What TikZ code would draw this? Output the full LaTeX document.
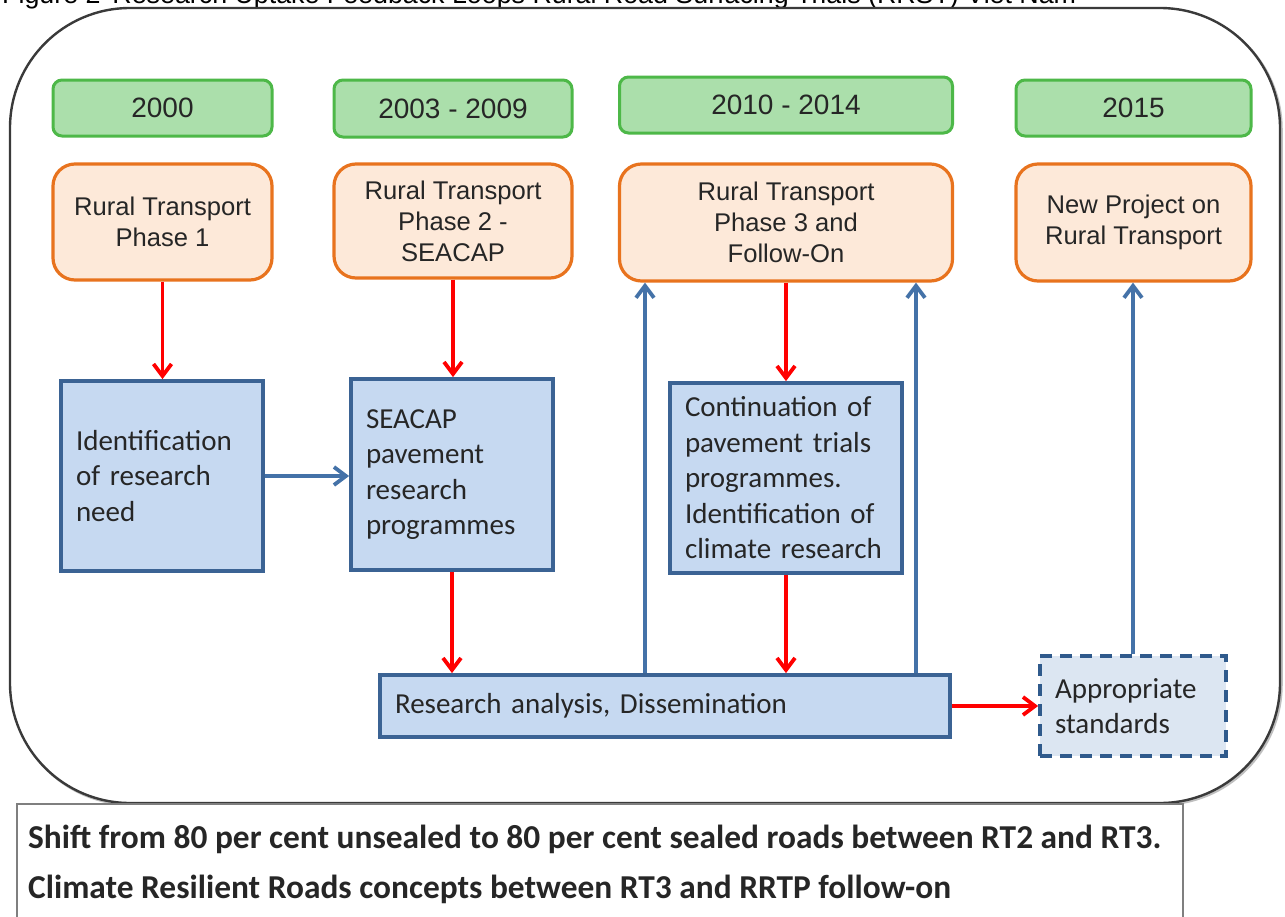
\documentclass[tikz,border=0pt]{standalone}
\usepackage{fontspec}
\setmainfont{Liberation Sans}
\newfontfamily\calfont{Carlito}
\usetikzlibrary{arrows.meta}
\definecolor{gfill}{HTML}{ABDFAB}
\definecolor{gline}{HTML}{4DB848}
\definecolor{ofill}{HTML}{FDE9D9}
\definecolor{oline}{HTML}{E8731E}
\definecolor{bfill}{HTML}{C6D9F1}
\definecolor{bline}{HTML}{3B6394}
\definecolor{barrow}{HTML}{4472A8}
\definecolor{sfill}{HTML}{DCE6F2}
\definecolor{sline}{HTML}{2F5A8C}
\definecolor{txt}{HTML}{262626}
\definecolor{frame}{HTML}{3A3A3A}
\definecolor{notebox}{HTML}{7F7F7F}
\tikzset{
  year/.style={draw=gline, fill=gfill, line width=3pt, rounded corners=9pt,
    inner sep=0pt, text=txt, font=\fontsize{28}{34}\selectfont},
  phase/.style={draw=oline, fill=ofill, line width=3.2pt, rounded corners=22pt,
    inner sep=0pt, align=center, text=txt, font=\fontsize{25.6}{31}\selectfont},
  resbox/.style={draw=bline, fill=bfill, line width=3.8pt, align=left,
    inner xsep=15pt, inner ysep=0pt, text=txt, font=\calfont\fontsize{29}{35.5}\selectfont},
  stdbox/.style={resbox, draw=sline, fill=sfill, dash pattern=on 12pt off 8pt},
  redarrow/.style={draw=red, line width=3.8pt, -{Straight Barb[length=12pt,width=18pt]}},
  bluearrow/.style={draw=barrow, line width=3.8pt, -{Straight Barb[length=12pt,width=18pt]}},
  notetext/.style={anchor=base west, inner sep=0pt, text=txt,
    font=\calfont\bfseries\fontsize{33.4}{38}\selectfont}
}
\begin{document}
\begin{tikzpicture}[x=1pt,y=-1pt]
\useasboundingbox (0,0) rectangle (1285,916);
\clip (0,0) rectangle (1285,916);
\fill[white] (0,0) rectangle (1285,916);

% title (cut off at the top, as in the reference)
\node[anchor=base west, inner sep=0pt, font=\fontsize{26.8}{30}\selectfont] (title) at (2,3)
  {Figure 2\hspace{12pt}Research Uptake Feedback Loops Rural Road Surfacing Trials (RRST) Viet Nam};

% outer frame
\draw[black!25, line width=2.5pt, rounded corners=120pt] (11.5,9.5) rectangle (1281.5,804.5);
\draw[frame, fill=white, line width=2.4pt, rounded corners=120pt] (10,8) rectangle (1280,803);

% years
\node[year, minimum width=219pt, minimum height=56pt] (y1) at (162.5,108) {2000};
\node[year, minimum width=238pt, minimum height=57pt] (y2) at (453,108.5) {2003 - 2009};
\node[year, minimum width=333pt, minimum height=56pt] (y3) at (786,105) {2010 - 2014};
\node[year, minimum width=235pt, minimum height=56pt] (y4) at (1133.5,108) {2015};

% phases
\node[phase, minimum width=219pt, minimum height=116pt] (o1) at (162.5,222) {Rural Transport\\Phase 1};
\node[phase, minimum width=238pt, minimum height=114pt] (o2) at (453,221) {Rural Transport\\Phase 2 -\\SEACAP};
\node[phase, minimum width=333pt, minimum height=117pt] (o3) at (786,222.5) {Rural Transport\\Phase 3 and\\Follow-On};
\node[phase, minimum width=235pt, minimum height=117pt] (o4) at (1133.5,222.5) {New Project on\\Rural Transport};

% research boxes
\node[resbox, text width=172pt, minimum height=190pt] (b1) at (162,476) {Identification\\of research\\need};
\node[resbox, text width=172pt, minimum height=191pt] (b2) at (452,474.5) {SEACAP\\pavement\\research\\programmes};
\node[resbox, text width=202pt, minimum height=190pt] (b3) at (786,478) {Continuation of\\pavement trials\\programmes.\\Identification of\\climate research};
\node[resbox, text width=540pt, minimum height=62pt] (ra) at (665,706) {Research analysis, Dissemination};
\node[stdbox, text width=156pt, minimum height=100pt] (st) at (1133,706) {Appropriate\\standards};

% helper coordinates for feedback lines
\coordinate (fbl) at (645,281);
\coordinate (fbr) at (916,281);

% red arrows
\draw[redarrow] (o1.south) -- (o1.south |- b1.north);
\draw[redarrow] (o2.south) -- (o2.south |- b2.north);
\draw[redarrow] (o3.south) -- (o3.south |- b3.north);
\draw[redarrow] (b2.south) -- (b2.south |- ra.north);
\draw[redarrow] (b3.south) -- (b3.south |- ra.north);
\draw[redarrow] (ra.east) -- (st.west);

% blue arrows
\draw[bluearrow] (b1.east) -- (b1.east -| b2.west);
\draw[bluearrow] (fbl |- ra.north) -- (fbl |- o3.south);
\draw[bluearrow] (fbr |- ra.north) -- (fbr |- o3.south);
\draw[bluearrow] (st.north) -- (st.north |- o4.south);

% bottom note
\draw[notebox, fill=white, line width=2pt] (17,804) rectangle (1183,930);
\node[notetext] (n1) at (28,848) {Shift from 80 per cent unsealed to 80 per cent sealed roads between RT2 and RT3.};
\node[notetext] (n2) at (28,898) {Climate Resilient Roads concepts between RT3 and RRTP follow-on};
\end{tikzpicture}
\end{document}
